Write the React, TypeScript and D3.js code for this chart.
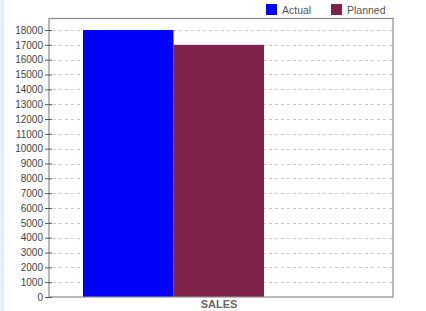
import React, { useEffect, useRef } from "react";
import * as d3 from "d3";

const categories = ["SALES"];
const seriesNames = ["Actual", "Planned"];
const seriesColors = ["#0000ff", "#7f2249"];
const actualValues = [18000];
const plannedValues = [17000];
const yTicks = d3.range(0, 18001, 1000);

const App = () => {
  const ref = useRef<SVGSVGElement>(null);

  useEffect(() => {
    const svg = d3.select(ref.current);
    svg.selectAll("*").remove();

    const width = 426;
    const height = 311;
    const left = 49;
    const right = 393;
    const top = 18.5;
    const bottom = 297;

    // light edge strip on the left
    svg
      .append("rect")
      .attr("x", 0)
      .attr("y", 0)
      .attr("width", 4)
      .attr("height", height)
      .style("fill", "#e6eef7");

    const y = d3.scaleLinear().domain([0, 18000]).range([bottom, 30]);
    const x0 = d3.scaleBand().domain(categories).range([left, right]);
    const x1 = d3
      .scaleBand()
      .domain(seriesNames)
      .range([34, 215]);

    // gridlines
    svg
      .append("g")
      .selectAll("line")
      .data(yTicks.filter((d) => d > 0))
      .enter()
      .append("line")
      .attr("x1", left + 4)
      .attr("x2", right - 1)
      .attr("y1", (d) => Math.round(y(d)) + 0.5)
      .attr("y2", (d) => Math.round(y(d)) + 0.5)
      .style("stroke", "#c8c8c8")
      .style("stroke-dasharray", "3,3");

    // bars
    const data = categories.map((c, i) => ({
      cat: c,
      values: [actualValues[i], plannedValues[i]],
    }));
    data.forEach((d) => {
      d.values.forEach((v, j) => {
        svg
          .append("rect")
          .attr("x", (x0(d.cat) as number) + (x1(seriesNames[j]) as number))
          .attr("y", y(v))
          .attr("width", x1.bandwidth())
          .attr("height", bottom - y(v))
          .style("fill", seriesColors[j]);
      });
    });

    // frame
    svg
      .append("rect")
      .attr("x", left)
      .attr("y", top)
      .attr("width", right - left)
      .attr("height", bottom - top)
      .style("fill", "none")
      .style("stroke", "#8a8a8a")
      .style("stroke-width", 1.2);

    // y axis
    const yAxis = svg
      .append("g")
      .attr("transform", `translate(${left},0)`)
      .call(d3.axisLeft(y).tickValues(yTicks).tickSize(4).tickFormat(d3.format("d")));
    yAxis.select(".domain").remove();
    yAxis
      .selectAll(".tick line")
      .attr("x1", -4)
      .attr("x2", 3)
      .style("stroke", "#555");
    yAxis
      .selectAll(".tick text")
      .attr("x", -6)
      .style("font-family", "Liberation Sans, Arial, sans-serif")
      .style("font-size", "10px")
      .style("fill", "#444");

    // x label
    svg
      .append("text")
      .attr("x", (x0(categories[0]) as number) + x0.bandwidth() / 2 - 2)
      .attr("y", 308)
      .attr("text-anchor", "middle")
      .style("font-family", "Liberation Sans, Arial, sans-serif")
      .style("font-size", "11px")
      .style("font-weight", "bold")
      .style("fill", "#666")
      .text(categories[0]);

    // legend
    const legendX = [266, 331];
    seriesNames.forEach((name, i) => {
      svg
        .append("rect")
        .attr("x", legendX[i])
        .attr("y", 4)
        .attr("width", 11)
        .attr("height", 11)
        .style("fill", seriesColors[i]);
      svg
        .append("text")
        .attr("x", legendX[i] + 16)
        .attr("y", 14)
        .style("font-family", "Liberation Sans, Arial, sans-serif")
        .style("font-size", "10.5px")
        .style("fill", "#555")
        .text(name);
    });

    svg.attr("width", width).attr("height", height);
  }, []);

  return (
    <div style={{ position: "absolute", left: 0, top: 0, background: "#fff" }}>
      <svg ref={ref} width={426} height={311} style={{ display: "block" }} />
    </div>
  );
};

export default App;
